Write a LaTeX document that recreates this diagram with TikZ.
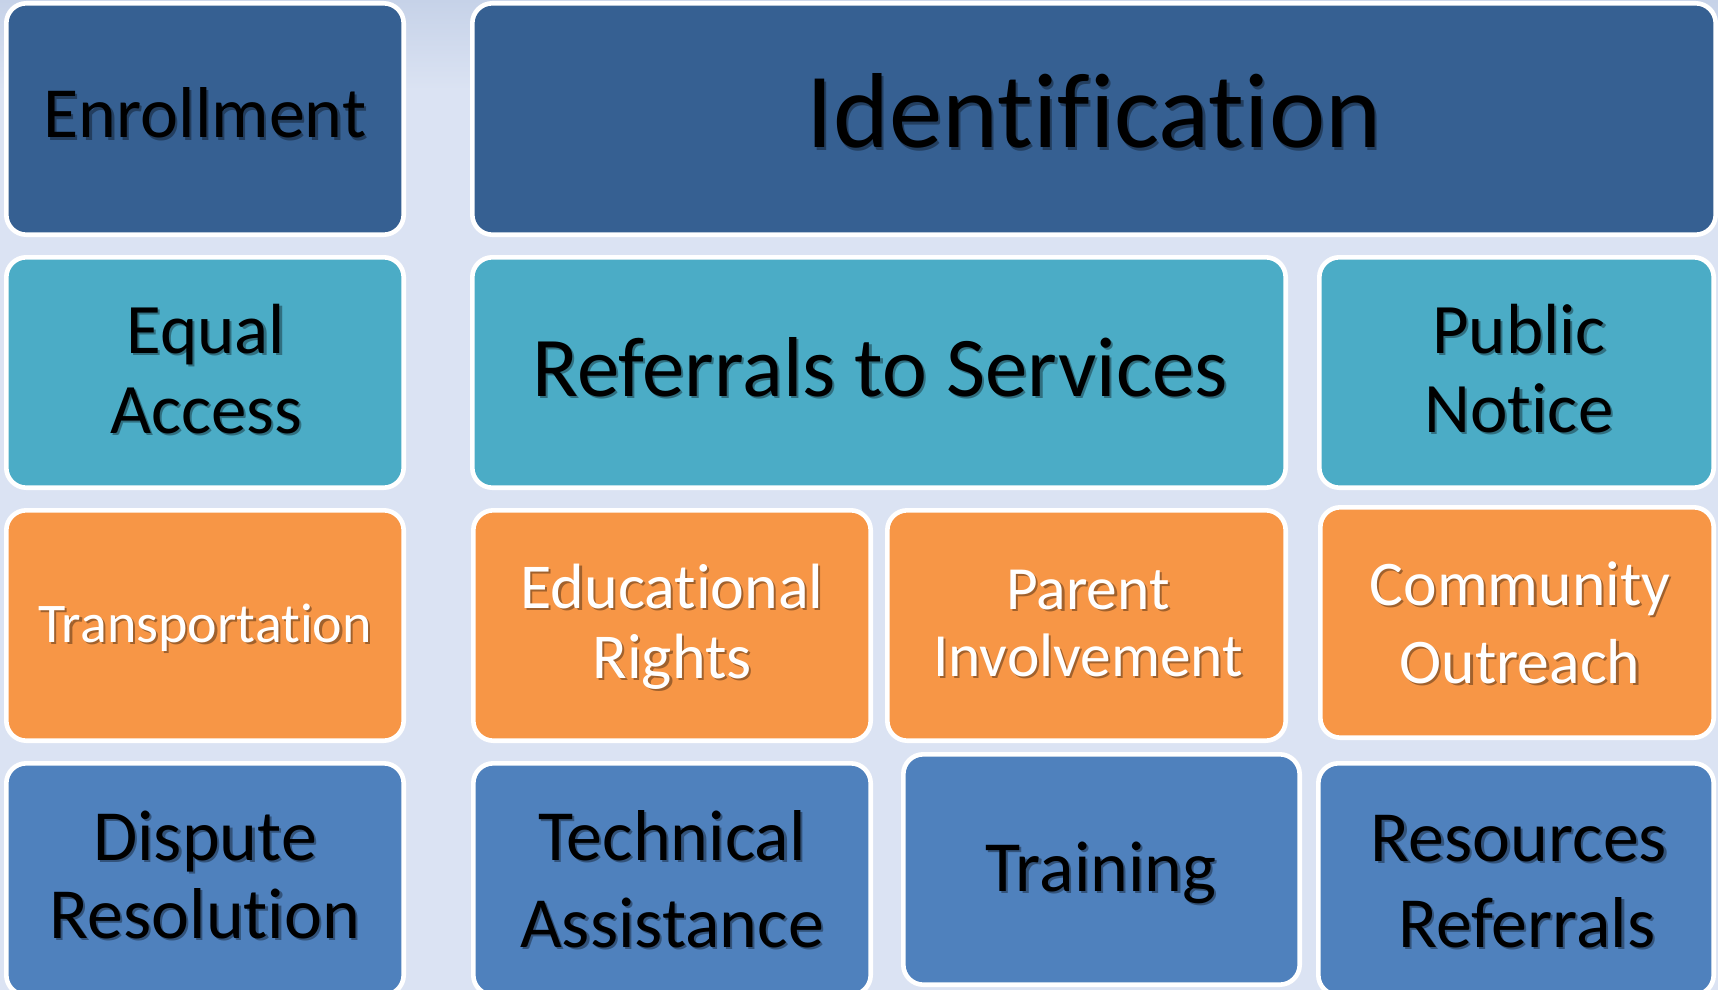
\documentclass[tikz,border=0pt]{standalone}
\usepackage{fontspec}
\setmainfont{Carlito}[Ligatures=NoCommon]
\usetikzlibrary{fit}
\definecolor{bgc}{RGB}{219,227,243}
\definecolor{bgtop}{RGB}{198,210,232}
\definecolor{rowA}{RGB}{54,96,146}
\definecolor{rowB}{RGB}{75,172,198}
\definecolor{rowC}{RGB}{247,150,70}
\definecolor{rowD}{RGB}{79,129,189}
\newcommand{\boxlabel}[6]{%
  \node[shadowtxt] at ([shift={(2.2,2.6)}] #2,#3) {\fontsize{#4}{#4}\selectfont #6};
  \node[txt,text=#5] (#1) at (#2,#3) {\fontsize{#4}{#4}\selectfont #6};}
\begin{document}
\begin{tikzpicture}[x=0.5pt,y=-0.5pt,
  box/.style={draw=white, line width=2.3pt, rounded corners=10pt, inner sep=0pt, outer sep=0pt},
  txt/.style={anchor=base, inner sep=0pt, outer sep=0pt},
  shadowtxt/.style={anchor=base, inner sep=0pt, outer sep=0pt, text=black, text opacity=0.35}]
\useasboundingbox (0,0) rectangle (1718,990);
\fill[bgc] (0,0) rectangle (1718,990);
\shade[top color=bgtop, bottom color=bgc] (0,0) rectangle (1718,90);
% row 1
\node[box, fill=rowA, fit={(6.3,3.3) (403.7,234.7)}] (enr) {};
\node[box, fill=rowA, fit={(472.3,3.3) (1715.7,234.7)}] (ident) {};
% row 2
\node[box, fill=rowB, fit={(6.3,257.3) (403.7,487.7)}] (eqa) {};
\node[box, fill=rowB, fit={(472.3,257.3) (1285.7,487.7)}] (ref) {};
\node[box, fill=rowB, fit={(1319.3,257.3) (1713.7,487.7)}] (pub) {};
% row 3
\node[box, fill=rowC, fit={(6.3,510.3) (403.7,740.7)}] (trn) {};
\node[box, fill=rowC, fit={(473.3,510.3) (870.7,740.7)}] (edu) {};
\node[box, fill=rowC, fit={(887.3,510.3) (1285.7,740.7)}] (par) {};
\node[box, fill=rowC, fit={(1320.3,507.3) (1713.7,737.7)}] (com) {};
% row 4
\node[box, fill=rowD, fit={(6.3,763.3) (403.7,995)}] (dis) {};
\node[box, fill=rowD, fit={(473.3,763.3) (870.7,995)}] (tec) {};
\node[box, fill=rowD, fit={(903.3,754.3) (1299.7,984.7)}] (tra) {};
\node[box, fill=rowD, fit={(1318.3,763.3) (1713.7,995)}] (res) {};
% labels
\boxlabel{tenr}{205}{138}{36}{black}{Enrollment}
\boxlabel{tident}{1094}{148}{53.3}{black}{Identification}
\boxlabel{teqa1}{206}{353}{35.5}{black}{Equal}
\boxlabel{teqa2}{206}{433}{35.5}{black}{Access}
\boxlabel{tref}{880}{396}{42.5}{black}{Referrals to Services}
\boxlabel{tpub1}{1519}{353}{35.5}{black}{Public}
\boxlabel{tpub2}{1519}{432}{35.5}{black}{Notice}
\boxlabel{ttrn}{205}{642}{28}{white}{Transportation}
\boxlabel{tedu1}{672}{608}{32}{white}{Educational}
\boxlabel{tedu2}{672}{678}{32}{white}{Rights}
\boxlabel{tpar1}{1088}{609}{30.7}{white}{Parent}
\boxlabel{tpar2}{1088}{676}{30.7}{white}{Involvement}
\boxlabel{tcom1}{1520}{605}{31.8}{white}{Community}
\boxlabel{tcom2}{1520}{683}{31.8}{white}{Outreach}
\boxlabel{tdis1}{205}{860}{36}{black}{Dispute}
\boxlabel{tdis2}{205}{938}{36}{black}{Resolution}
\boxlabel{ttec1}{672}{860}{36}{black}{Technical}
\boxlabel{ttec2}{672}{947}{36}{black}{Assistance}
\boxlabel{ttra}{1101}{891}{36}{black}{Training}
\boxlabel{tres1}{1519}{861}{36}{black}{Resources}
\boxlabel{tres2}{1527}{947}{36}{black}{Referrals}
\end{tikzpicture}
\end{document}
